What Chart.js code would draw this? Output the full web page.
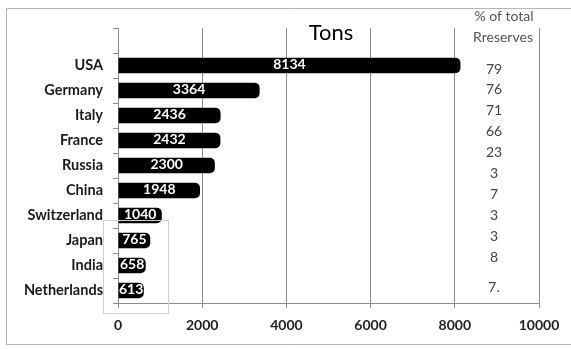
<!DOCTYPE html>
<html>
<head>
<meta charset="utf-8">
<script src="https://cdn.jsdelivr.net/npm/chart.js@4/dist/chart.umd.min.js"></script>
<style>
  html, body { margin: 0; padding: 0; background: #fff; }
  #wrap { width: 571px; height: 349px; position: relative; }
</style>
</head>
<body>
<div id="wrap"><canvas id="c" width="571" height="349"></canvas></div>
<script>
// Gold reserves by country (tons) and share of total reserves (%)
const countries = ['', 'USA', 'Germany', 'Italy', 'France', 'Russia', 'China', 'Switzerland', 'Japan', 'India', 'Netherlands'];
const tons = [null, 8134, 3364, 2436, 2432, 2300, 1948, 1040, 765, 658, 613];
const pctOfReserves = ['79', '76', '71', '66', '23', '3', '7', '3', '3', '8', '7.'];
const xTicks = [0, 2000, 4000, 6000, 8000, 10000];

const FONT = 'Lato, "Open Sans", sans-serif';

// Frame, title, side column and in-bar value labels
const decorations = {
  id: 'decorations',
  beforeDraw(chart) {
    const ctx = chart.ctx;
    ctx.save();
    ctx.strokeStyle = '#b5b5b5';
    ctx.lineWidth = 1;
    ctx.beginPath();
    ctx.moveTo(575, 8.5);
    ctx.lineTo(6.5, 8.5);
    ctx.lineTo(6.5, 344.5);
    ctx.lineTo(575, 344.5);
    ctx.stroke();
    ctx.restore();
  },
  afterDatasetsDraw(chart) {
    const ctx = chart.ctx;
    const meta = chart.getDatasetMeta(0);
    ctx.save();
    // values inside the bars
    ctx.fillStyle = '#ffffff';
    ctx.font = 'bold 14px ' + FONT;
    ctx.textAlign = 'center';
    ctx.textBaseline = 'middle';
    meta.data.forEach((bar, i) => {
      const v = tons[i];
      if (v == null) return;
      const cx = (bar.base + bar.x) / 2;
      ctx.fillText(String(v), cx, bar.y - 1);
    });

    // title
    ctx.fillStyle = '#000';
    ctx.font = '22px ' + FONT;
    ctx.textBaseline = 'alphabetic';
    ctx.fillText('Tons', 331, 40);

    // share column header
    ctx.fillStyle = '#555';
    ctx.font = '14px ' + FONT;
    ctx.fillText('% of total', 504, 21);
    ctx.fillText('Rreserves', 503, 42);

    // share column values
    ctx.fillStyle = '#444';
    ctx.font = '14px ' + FONT;
    ctx.textBaseline = 'middle';
    pctOfReserves.forEach((t, i) => {
      const y = i < 10 ? 69 + i * 20.9 : 287;
      ctx.fillText(t, 494, y);
    });

    // light selection frame over the lower rows
    ctx.strokeStyle = '#cfcfcf';
    ctx.lineWidth = 1;
    ctx.strokeRect(103.5, 220.5, 65, 93);
    ctx.restore();
  }
};

new Chart(document.getElementById('c'), {
  type: 'bar',
  data: {
    labels: countries,
    datasets: [{
      data: tons,
      backgroundColor: '#000',
      borderRadius: 5,
      borderSkipped: 'start',
      barPercentage: 0.62,
      categoryPercentage: 1
    }]
  },
  options: {
    indexAxis: 'y',
    responsive: false,
    animation: false,
    devicePixelRatio: 1,
    layout: { padding: { left: 0, right: 32, top: 28, bottom: 0 } },
    plugins: {
      legend: { display: false },
      tooltip: { enabled: false }
    },
    scales: {
      x: {
        min: 0,
        max: 10000,
        afterBuildTicks(scale) { scale.ticks = xTicks.map(v => ({ value: v })); },
        afterFit(scale) { scale.height = 46; },
        grid: {
          color: '#8c8c8c',
          lineWidth: 1,
          tickLength: 5,
          drawTicks: true
        },
        border: { color: '#8c8c8c', width: 1 },
        ticks: {
          font: { family: FONT, size: 14, weight: 'bold' },
          color: '#222',
          padding: 9,
          maxRotation: 0,
          callback: (v) => String(v)
        }
      },
      y: {
        afterFit(scale) { scale.width = 118; },
        grid: {
          offset: true,
          drawOnChartArea: false,
          color: '#8c8c8c',
          tickLength: 5
        },
        border: { color: '#8c8c8c', width: 1 },
        ticks: {
          font: { family: FONT, size: 14.5, weight: 'bold' },
          color: '#1a1a1a',
          padding: 10
        }
      }
    }
  },
  plugins: [decorations]
});
</script>
</body>
</html>
